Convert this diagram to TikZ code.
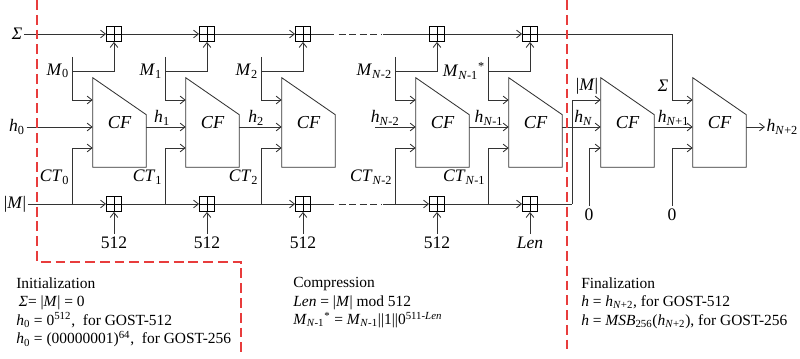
\documentclass[tikz,border=0pt]{standalone}
\usepackage{fontspec}
\setmainfont{Liberation Serif}
\usetikzlibrary{arrows.meta, positioning, calc}

\definecolor{stagered}{RGB}{232,60,60}
\newcommand{\iv}[2]{\textit{#1}\textsubscript{#2}}

\tikzset{
  wire/.style={draw=black!80, line width=0.6pt},
  arrow/.style={wire, -{Straight Barb[length=3.5pt,width=5.5pt]}},
  skipline/.style={wire, dash pattern=on 1pt off 3pt on 5pt off 2.5pt on 5pt off 2.5pt on 5pt off 2.5pt on 5pt off 2.5pt},
  cfblock/.style={
    rectangle, minimum width=1.325cm, minimum height=2.225cm,
    inner sep=0pt, font=\fontsize{13}{13}\selectfont\itshape
  },
  adder/.style={
    rectangle, draw=black, line width=0.6pt, fill=white,
    minimum size=0.375cm, inner sep=0pt,
    path picture={
      \draw[line width=0.5pt]
        (path picture bounding box.north) -- (path picture bounding box.south)
        (path picture bounding box.west) -- (path picture bounding box.east);
    }
  },
  lbl/.style={font=\fontsize{12.5}{12.5}\selectfont, inner sep=1pt},
  lbli/.style={lbl, font=\fontsize{12.5}{12.5}\selectfont\itshape},
  note/.style={font=\fontsize{11}{13.2}\selectfont, align=left,
    anchor=north west, inner sep=0pt},
  border/.style={draw=stagered, line width=1pt, dash pattern=on 7pt off 3.5pt}
}

\begin{document}
\begin{tikzpicture}[x=0.025cm, y=-0.025cm]
\useasboundingbox (0,0) rectangle (800,359);

% rows of the CF inputs
\coordinate (rowM) at (0,100);
\coordinate (rowH) at (0,127);
\coordinate (rowC) at (0,148);

% compression stages
\foreach \i/\x in {1/93, 2/186, 3/282, 4/416, 5/509} {
  \node[cfblock] (cf\i) at (\x+26.5,122.5) {CF};
  \node[adder] (s\i) at (\x+21,34) {};
  \node[adder] (c\i) at (\x+21,204) {};
  \coordinate (mt\i) at (\x-21,57);
  \coordinate (mb\i) at (\x-21,71);
  \coordinate (cb\i) at (\x-21,204);
  \draw[arrow] (mt\i) |- (cf\i.west |- rowM);
  \draw[arrow] (mb\i) -| (s\i.south);
  \draw[arrow] (cb\i) |- (cf\i.west |- rowC);
}
% finalization stages
\node[cfblock] (cf6) at (627.5,122.5) {CF};
\node[cfblock] (cf7) at (719.5,122.5) {CF};
\foreach \i in {1,...,7}
  \draw[wire] (cf\i.north west) -- ([yshift=-0.925cm]cf\i.north east)
    -- (cf\i.south east) -- (cf\i.south west) -- cycle;

% message blocks and counters
\node[lbl, left=1pt of mb1] (lm1) {\iv{M}{0}};
\node[lbl, left=1pt of mb2] (lm2) {\iv{M}{1}};
\node[lbl, left=1pt of mb3] (lm3) {\iv{M}{2}};
\node[lbl, left=1pt of mb4] (lm4) {\iv{M}{\textit{N}-2}};
\node[lbl, left=1pt of mb5] (lm5) {\iv{M}{\textit{N}-1}\textsuperscript{*}};
\node[lbl, anchor=east] (lc1) at (71,177) {\iv{CT}{0}};
\node[lbl, anchor=east] (lc2) at (164,177) {\iv{CT}{1}};
\node[lbl, anchor=east] (lc3) at (260,177) {\iv{CT}{2}};
\node[lbl, anchor=east] (lc4) at (394,177) {\iv{CT}{\textit{N}-2}};
\node[lbl, anchor=east] (lc5) at (487,177) {\iv{CT}{\textit{N}-1}};

% sum bus
\node[lbli] (sig) at (17,34) {Σ};
\coordinate (sk1) at (333,34);
\coordinate (sk2) at (383,34);
\coordinate (sturn) at (672,34);
\draw[arrow] (sig) -- (s1);
\draw[arrow] (s1) -- (s2);
\draw[arrow] (s2) -- (s3);
\draw[wire] (s3) -- (sk1);
\draw[skipline] (sk1) -- (sk2);
\draw[wire] (sk2) -- (s4);
\draw[arrow] (s4) -- (s5);
\draw[arrow] (s5) -- (sturn) |- (cf7.west |- rowM);

% length bus
\node[lbl] (lenm) at (15,204) {|\textit{M}|};
\coordinate (ck1) at (333,204);
\coordinate (ck2) at (383,204);
\coordinate (cturn) at (572,204);
\draw[arrow] (lenm) -- (c1);
\draw[arrow] (c1) -- (c2);
\draw[arrow] (c2) -- (c3);
\draw[wire] (c3) -- (ck1);
\draw[skipline] (ck1) -- (ck2);
\draw[arrow] (ck2) -- (c4);
\draw[arrow] (c4) -- (c5);
\draw[wire] (c5) -- (cturn);
\draw[arrow] (cturn) |- (cf6.west |- rowM);

% counter increments
\foreach \i/\x in {1/114, 2/207, 3/303, 4/437}
  \node[lbl, inner sep=2pt] (k\i) at (\x,243) {512};
\node[lbli, inner sep=2pt] (k5) at (530,243) {Len};
\foreach \i in {1,...,5}
  \draw[arrow] (k\i) -- (c\i);

% chaining values
\coordinate (hs) at (375,127);
\node[lbl] (h0) at (17,127) {\iv{h}{0}};
\draw[arrow] (h0) -- (cf1.west |- rowH);
\draw[arrow] (cf1.east |- rowH) -- node[lbl, above, pos=0.4] {\iv{h}{1}} (cf2.west |- rowH);
\draw[arrow] (cf2.east |- rowH) -- node[lbl, above, pos=0.4] {\iv{h}{2}} (cf3.west |- rowH);
\draw[arrow] (hs) -- node[lbl, above, pos=0.25] {\iv{h}{\textit{N}-2}} (cf4.west |- rowH);
\draw[arrow] (cf4.east |- rowH) -- node[lbl, above] {\iv{h}{\textit{N}-1}} (cf5.west |- rowH);
\draw[arrow] (cf5.east |- rowH) -- node[lbl, above, pos=0.55] {\iv{h}{\textit{N}}} (cf6.west |- rowH);
\draw[arrow] (cf6.east |- rowH) -- node[lbl, above] {\iv{h}{\textit{N}+1}} (cf7.west |- rowH);
\node[lbl, anchor=west] (hlast) at (765,127) {\iv{h}{\textit{N}+2}};
\draw[arrow] (cf7.east |- rowH) -- (hlast);

% finalization inputs
\node[lbl] (lmf) at (587,86) {|\textit{M}|};
\node[lbli] (lsf) at (663,86) {Σ};
\node[lbl, inner sep=2pt] (z1) at (589,215) {0};
\node[lbl, inner sep=2pt] (z2) at (672,215) {0};
\draw[arrow] (z1) |- (cf6.west |- rowC);
\draw[arrow] (z2) |- (cf7.west |- rowC);

% stage borders
\draw[border] (37,0) -- (37,262) -- (241,262) -- (241,352);
\draw[border] (567,0) -- (567,352);

% notes
\node[note] (init) at (16,277) {Initialization\\
  \,\textit{Σ}= |\textit{M}| = 0\\
  \iv{h}{0} = 0\textsuperscript{512},\ \ for GOST-512\\
  \iv{h}{0} = (00000001)\textsuperscript{64},\ \ for GOST-256};
\node[note] (comp) at (293,277) {Compression\\
  \textit{Len} = |\textit{M}| mod 512\\
  \iv{M}{\textit{N}-1}\textsuperscript{*} = \iv{M}{\textit{N}-1}||1||0\textsuperscript{511-\textit{Len}}};
\node[note] (fin) at (581,277) {Finalization\\
  \textit{h} = \iv{h}{\textit{N}+2}, for GOST-512\\
  \textit{h} = \iv{MSB}{256}(\iv{h}{\textit{N}+2}), for GOST-256};

\end{tikzpicture}
\end{document}
